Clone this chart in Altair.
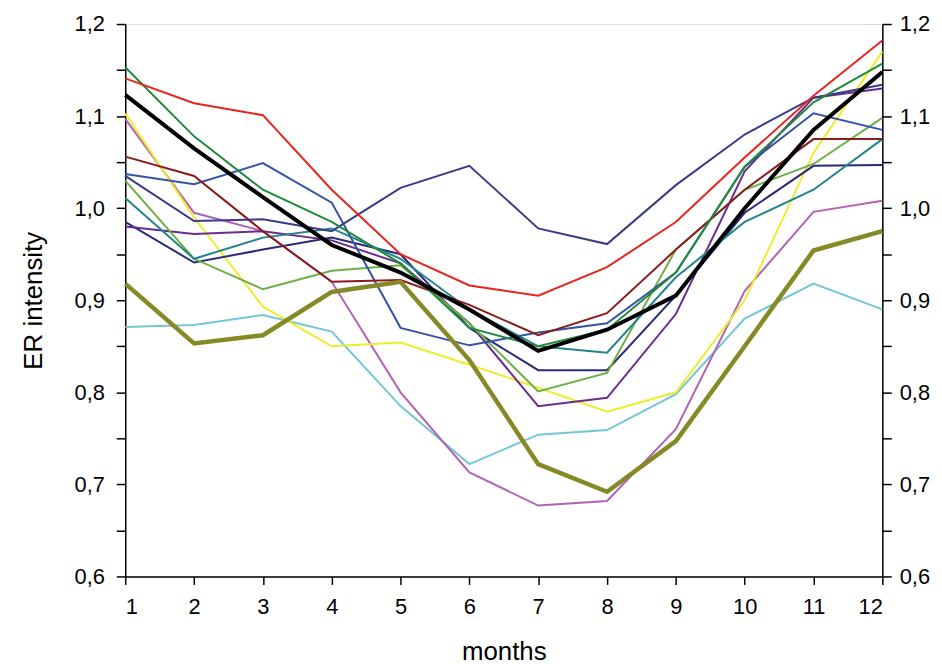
import altair as alt
import pandas as pd

months = list(range(1, 13))

black_avg   = [1.123, 1.065, 1.012, 0.960, 0.930, 0.890, 0.845, 0.868, 0.905, 1.000, 1.085, 1.148]
olive       = [0.918, 0.853, 0.862, 0.909, 0.920, 0.835, 0.722, 0.692, 0.747, 0.850, 0.954, 0.975]
red         = [1.141, 1.114, 1.101, 1.020, 0.950, 0.916, 0.905, 0.936, 0.985, 1.055, 1.122, 1.182]
dark_green  = [1.153, 1.078, 1.020, 0.985, 0.940, 0.870, 0.850, 0.868, 0.930, 1.045, 1.115, 1.157]
yellow      = [1.103, 0.990, 0.893, 0.850, 0.854, 0.830, 0.805, 0.779, 0.800, 0.900, 1.060, 1.170]
pink        = [1.097, 0.995, 0.975, 0.920, 0.800, 0.713, 0.677, 0.682, 0.760, 0.910, 0.996, 1.008]
dark_purple = [0.980, 0.972, 0.975, 0.965, 0.940, 0.875, 0.785, 0.794, 0.885, 1.040, 1.120, 1.130]
dark_red    = [1.056, 1.035, 0.975, 0.920, 0.922, 0.895, 0.862, 0.886, 0.955, 1.020, 1.075, 1.075]
blue        = [1.037, 1.026, 1.049, 1.006, 0.870, 0.851, 0.865, 0.875, 0.930, 1.045, 1.103, 1.085]
navy_peak   = [1.035, 0.986, 0.988, 0.975, 1.022, 1.046, 0.978, 0.961, 1.025, 1.080, 1.120, 1.134]
navy_low    = [0.985, 0.941, 0.955, 0.968, 0.950, 0.870, 0.824, 0.824, 0.905, 0.995, 1.046, 1.047]
light_green = [1.030, 0.945, 0.912, 0.932, 0.938, 0.875, 0.801, 0.821, 0.955, 1.020, 1.048, 1.098]
teal        = [1.011, 0.945, 0.968, 0.978, 0.945, 0.890, 0.850, 0.843, 0.925, 0.985, 1.020, 1.075]
cyan        = [0.871, 0.873, 0.884, 0.866, 0.785, 0.722, 0.754, 0.759, 0.798, 0.880, 0.918, 0.890]

thin_series = {
    "s01_cyan": (cyan, "#72c6d6"),
    "s02_pink": (pink, "#b262b6"),
    "s03_yellow": (yellow, "#eeec2c"),
    "s04_navy_low": (navy_low, "#2a2a78"),
    "s05_dark_purple": (dark_purple, "#6a2c8e"),
    "s06_light_green": (light_green, "#6cb044"),
    "s07_teal": (teal, "#22848c"),
    "s08_blue": (blue, "#3452a6"),
    "s09_dark_red": (dark_red, "#8a1c1c"),
    "s10_navy_peak": (navy_peak, "#3a3a8a"),
    "s11_dark_green": (dark_green, "#1f8a3c"),
    "s12_red": (red, "#e8241c"),
}

rows = []
for name, (vals, _) in thin_series.items():
    for m, v in zip(months, vals):
        rows.append({"month": m, "value": v, "series": name})
thin_df = pd.DataFrame(rows)
olive_df = pd.DataFrame({"month": months, "value": olive})
black_df = pd.DataFrame({"month": months, "value": black_avg})

FONT = "Liberation Sans"

xscale = alt.Scale(domain=[1, 12], nice=False, zero=False)
yscale = alt.Scale(domain=[0.6, 1.2], nice=False, zero=False)
yvals = [round(0.6 + 0.05 * i, 2) for i in range(13)]
label_expr = ("abs(datum.value*10 - round(datum.value*10)) < 0.001 ? "
              "replace(format(datum.value, '.1f'), '.', ',') : ''")

x_enc = alt.X("month:Q", scale=xscale,
              axis=alt.Axis(values=months, format="d", title="months", grid=False,
                            tickSize=8, labelPadding=12, titlePadding=22,
                            labelFontSize=22, titleFontSize=26, labelFont=FONT,
                            titleFont=FONT, titleFontWeight="normal",
                            domainColor="black", tickColor="black", labelColor="black",
                            titleColor="black", domainWidth=1.5, tickWidth=1.5))
y_left = alt.Y("value:Q", scale=yscale,
               axis=alt.Axis(values=yvals, labelExpr=label_expr, title="ER intensity",
                             grid=False, tickSize=9, labelPadding=12, titlePadding=28,
                             labelFontSize=22, titleFontSize=26, labelFont=FONT,
                             titleFont=FONT, titleFontWeight="normal",
                             domainColor="black", tickColor="black", labelColor="black",
                             titleColor="black", domainWidth=1.5, tickWidth=1.5,
                             labelFlush=False))
y_right = alt.Y("value:Q", scale=yscale,
                axis=alt.Axis(values=yvals, labelExpr=label_expr, title=None, orient="right",
                              grid=False, tickSize=9, labelPadding=8,
                              labelFontSize=22, labelFont=FONT,
                              domainColor="black", tickColor="black", labelColor="black",
                              domainWidth=1.5, tickWidth=1.5, labelFlush=False))

names = list(thin_series.keys())
colors = [c for _, c in thin_series.values()]

thin = alt.Chart(thin_df).mark_line(strokeWidth=2).encode(
    x=x_enc, y=y_left,
    color=alt.Color("series:N", scale=alt.Scale(domain=names, range=colors), legend=None),
)
olive_line = alt.Chart(olive_df).mark_line(strokeWidth=4.5, color="#868a26").encode(
    x=alt.X("month:Q", scale=xscale), y=alt.Y("value:Q", scale=yscale))
black_line = alt.Chart(black_df).mark_line(strokeWidth=4, color="black").encode(
    x=alt.X("month:Q", scale=xscale), y=alt.Y("value:Q", scale=yscale))

left = alt.layer(thin, olive_line, black_line)
right = alt.Chart(black_df).mark_line(opacity=0).encode(
    x=alt.X("month:Q", scale=xscale), y=y_right)

chart = alt.layer(left, right).resolve_axis(y="independent").properties(
    width=762, height=556,
    autosize=alt.AutoSizeParams(type="none"),
    padding={"left": 118, "top": 14, "right": 52, "bottom": 86},
).configure_view(stroke=None).configure(background="white")

chart.save("out.html", embed_options={"renderer": "svg", "actions": False})
